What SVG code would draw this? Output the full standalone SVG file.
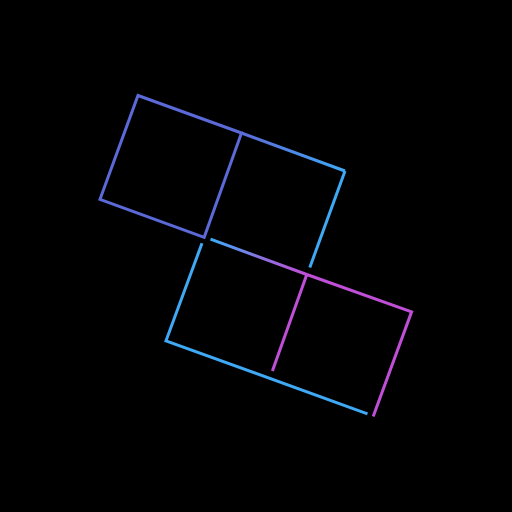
<svg xmlns="http://www.w3.org/2000/svg" width="512" height="512" viewBox="0 0 512 512">
  <defs>
    <linearGradient id="gTop" gradientUnits="userSpaceOnUse" x1="241.5" y1="133" x2="345" y2="171">
      <stop offset="0" stop-color="#5b6ad8"/>
      <stop offset="1" stop-color="#3fa9f5"/>
    </linearGradient>
    <linearGradient id="gMid" gradientUnits="userSpaceOnUse" x1="215" y1="241" x2="305" y2="274">
      <stop offset="0" stop-color="#3fa9f5"/>
      <stop offset="0.5" stop-color="#8a72e0"/>
      <stop offset="1" stop-color="#c04fd8"/>
    </linearGradient>
  </defs>
  <style>
    .ln { fill: none; stroke-width: 3; stroke-linejoin: miter; stroke-linecap: butt; }
    .pb { stroke: #5b6ad8; }
    .lb { stroke: #3fa9f5; }
    .mg { stroke: #c04fd8; }
  </style>
  <rect width="512" height="512" fill="#000"/>
  <g id="square-top-left">
    <path class="ln pb" d="M241.5,133 L138,95.5 L100,199.3 L204.2,237.3 Z"/>
  </g>
  <g id="square-top-right">
    <path class="ln" stroke="url(#gTop)" d="M241.5,133 L345,171"/>
    <path class="ln lb" d="M345,171 L309.8,267.5"/>
  </g>
  <g id="shape-bottom">
    <path class="ln" stroke="url(#gMid)" d="M210.5,239.2 L306.8,274.5"/>
    <path class="ln mg" d="M306.8,274.5 L411.6,311.8 L373.2,416.5"/>
    <path class="ln mg" d="M306.8,274.5 L272.4,371"/>
    <path class="ln lb" d="M202,243.3 L166,340.8 L367.5,413.8"/>
  </g>
</svg>
